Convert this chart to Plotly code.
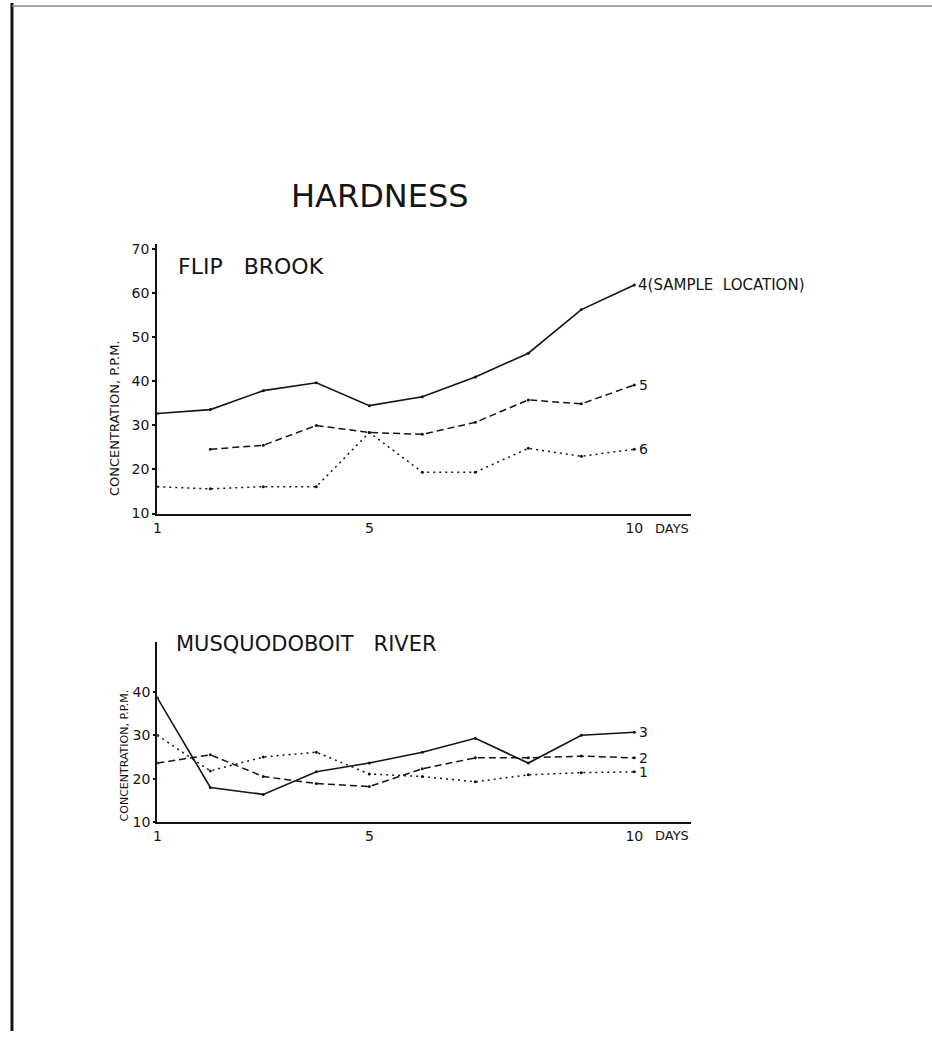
import plotly.graph_objects as go

W, H = 932, 1039

days = [1, 2, 3, 4, 5, 6, 7, 8, 9, 10]

# Flip Brook (top panel)
flip_site4 = [32.7, 33.6, 37.9, 39.7, 34.5, 36.5, 41.0, 46.4, 56.3, 61.9]
flip_site5 = [None, 24.6, 25.5, 30.0, 28.4, 28.0, 30.7, 35.8, 34.9, 39.2]
flip_site6 = [16.1, 15.6, 16.1, 16.1, 28.4, 19.4, 19.4, 24.8, 23.0, 24.6]

# Musquodoboit River (bottom panel)
musq_site3 = [38.6, 18.0, 16.4, 21.6, 23.6, 26.1, 29.3, 23.6, 30.0, 30.7]
musq_site2 = [23.6, 25.5, 20.5, 18.9, 18.2, 22.3, 24.8, 24.8, 25.2, 24.8]
musq_site1 = [30.0, 21.8, 25.0, 26.1, 21.1, 20.5, 19.3, 20.9, 21.4, 21.6]

top_yticks = [10, 20, 30, 40, 50, 60, 70]
bot_yticks = [10, 20, 30, 40]
xtick_vals = [1, 5, 10]
xtick_text = ["1", "5", "10"]


def px(x):
    return x / W


def py(y):
    return 1 - y / H


INK = "#141414"
FONT = "DejaVu Sans"

fig = go.Figure()


def add_line(x, y, dash, axis, width=1.5):
    xa, ya = axis
    fig.add_trace(go.Scatter(
        x=x, y=y, mode="lines+markers",
        line=dict(color=INK, width=width, dash=dash),
        marker=dict(color=INK, size=3),
        connectgaps=False, showlegend=False, hoverinfo="skip",
        xaxis=xa, yaxis=ya))


add_line(days, flip_site4, "solid", ("x", "y"), 1.6)
add_line(days, flip_site5, "7px,4px", ("x", "y"))
add_line(days, flip_site6, "2px,4px", ("x", "y"))

add_line(days, musq_site3, "solid", ("x2", "y2"), 1.6)
add_line(days, musq_site2, "7px,4px", ("x2", "y2"))
add_line(days, musq_site1, "2px,4px", ("x2", "y2"))

xdom = [px(154), px(690)]
axis_common = dict(showgrid=False, zeroline=False, showline=True,
                   linecolor=INK, linewidth=2.4,
                   tickfont=dict(family=FONT, size=14, color=INK))

fig.update_layout(
    width=W, height=H,
    margin=dict(l=0, r=0, t=0, b=0),
    paper_bgcolor="white", plot_bgcolor="white",
    showlegend=False,
    xaxis=dict(domain=xdom, range=[1, 11.07], tickvals=xtick_vals,
               ticktext=xtick_text, ticks="", anchor="y", **axis_common),
    yaxis=dict(domain=[py(516), py(244)], range=[10, 71.1],
               tickvals=top_yticks, ticks="outside", ticklen=3,
               tickwidth=1.5, tickcolor=INK, anchor="x", **axis_common),
    xaxis2=dict(domain=xdom, range=[1, 11.07], tickvals=xtick_vals,
                ticktext=xtick_text, ticks="", anchor="y2", **axis_common),
    yaxis2=dict(domain=[py(828), py(646)], range=[10, 51.4],
                tickvals=bot_yticks, ticks="outside", ticklen=2,
                tickwidth=1.5, tickcolor=INK, anchor="x2", **axis_common),
)


def note(text, x, y, size, anchor="center", angle=0):
    return dict(text=text, x=px(x), y=py(y), xref="paper", yref="paper",
                xanchor=anchor, yanchor="middle", textangle=angle,
                showarrow=False, font=dict(family=FONT, size=size, color=INK))


ann = [
    note("HARDNESS", 378, 195, 32),
    note("FLIP   BROOK", 173, 266, 22, "left"),
    note("MUSQUODOBOIT   RIVER", 171, 648, 21, "left"),
    note("CONCENTRATION, P.P.M.", 111, 420, 13, "center", -90),
    note("CONCENTRATION, P.P.M.", 121, 760, 11, "center", -90),
    note("DAYS", 652, 531, 13, "left"),
    note("DAYS", 652, 841, 13, "left"),
]

# End-of-line labels
ann.append(dict(text="4(SAMPLE  LOCATION)", x=10, y=flip_site4[-1], xref="x", yref="y",
                xanchor="left", yanchor="middle", xshift=2, showarrow=False,
                font=dict(family=FONT, size=15, color=INK)))
for txt, val, xa, ya in (("5", flip_site5[-1], "x", "y"),
                         ("6", flip_site6[-1], "x", "y"),
                         ("3", musq_site3[-1], "x2", "y2"),
                         ("2", musq_site2[-1], "x2", "y2"),
                         ("1", musq_site1[-1], "x2", "y2")):
    ann.append(dict(text=txt, x=10, y=val, xref=xa, yref=ya,
                    xanchor="left", yanchor="middle", xshift=3, showarrow=False,
                    font=dict(family=FONT, size=14, color=INK)))
fig.update_layout(annotations=ann)

# Page border (scanned sheet edge)
fig.add_shape(type="line", xref="paper", yref="paper",
              x0=px(8), x1=px(8), y0=0, y1=1, line=dict(color=INK, width=3))
fig.add_shape(type="line", xref="paper", yref="paper",
              x0=px(8), x1=1, y0=py(3), y1=py(3), line=dict(color="#8a8a8a", width=1.5))

fig.write_html("out.html", config={"displayModeBar": False},
               post_script="document.body.style.margin='0';")
